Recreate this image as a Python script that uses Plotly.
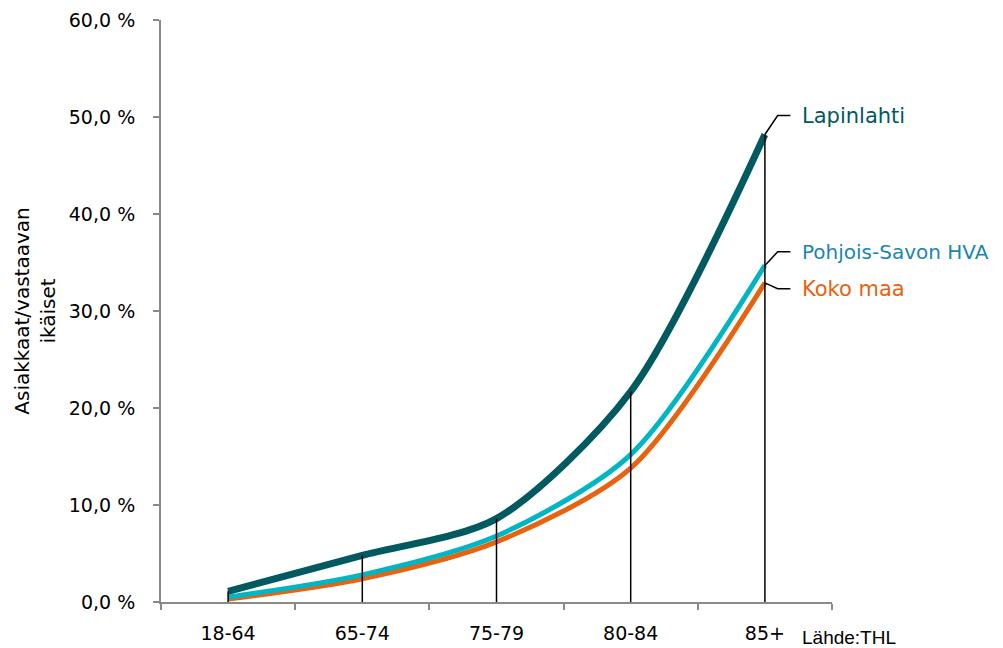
import plotly.graph_objects as go

categories = ["18-64", "65-74", "75-79", "80-84", "85+"]
lapinlahti = [1.1, 4.8, 8.6, 21.7, 48.2]
pohjois_savo = [0.5, 2.8, 6.8, 15.2, 34.7]
koko_maa = [0.3, 2.4, 6.2, 13.8, 32.9]
series_names = ["Lapinlahti", "Pohjois-Savon HVA", "Koko maa"]
y_ticks = [0, 10, 20, 30, 40, 50, 60]
y_tick_labels = ["0,0 %", "10,0 %", "20,0 %", "30,0 %", "40,0 %", "50,0 %", "60,0 %"]

line_colors = ["#005A5F", "#00B5C4", "#E8630F"]
label_colors = ["#005A5F", "#1A86AF", "#E8630F"]
label_sizes = [21, 20, 21]
widths = [7, 5, 5]
series = [lapinlahti, pohjois_savo, koko_maa]

FONT = "DejaVu Sans"
fig = go.Figure()

for i in [2, 1, 0]:
    fig.add_trace(go.Scatter(
        x=categories, y=series[i], mode="lines", name=series_names[i],
        line=dict(color=line_colors[i], width=widths[i], shape="spline", smoothing=0.8),
        showlegend=False,
    ))

shapes = []
for idx in range(len(categories)):
    top = max(s[idx] for s in series)
    shapes.append(dict(type="line", xref="x", yref="y", x0=idx, x1=idx, y0=0, y1=top,
                       line=dict(color="black", width=1.5), layer="above"))

last = len(categories) - 1
label_offsets = [1.95, 1.4, -0.6]
for i, s in enumerate(series):
    y0 = s[last]
    y1 = y0 + label_offsets[i]
    shapes.append(dict(type="path", xref="x", yref="y",
                       path=f"M {last},{y0} L {last + 0.095},{y1} L {last + 0.19},{y1}",
                       line=dict(color="black", width=1.5), layer="above"))
    fig.add_annotation(x=last + 0.26, y=y1, xref="x", yref="y", text=series_names[i],
                       showarrow=False, xanchor="left", yanchor="middle",
                       font=dict(family=FONT, size=label_sizes[i], color=label_colors[i]))

fig.add_annotation(x=1.0, y=0, xref="paper", yref="paper", text="Lähde:THL",
                   showarrow=False, xanchor="left", yanchor="middle", yshift=-35, xshift=-32,
                   font=dict(family="Liberation Sans", size=19, color="black"))

fig.update_layout(
    width=1003, height=648,
    margin=dict(l=153, r=179, t=12, b=54, autoexpand=False),
    paper_bgcolor="white", plot_bgcolor="white",
    shapes=shapes,
    font=dict(family=FONT, size=19, color="black"),
    xaxis=dict(type="category", tickson="boundaries", ticks="outside", ticklen=6,
               tickcolor="#898989", tickwidth=2, showline=True, linecolor="#898989", linewidth=2,
               showgrid=False, zeroline=False, range=[-0.5, 4.5], automargin=False,
               ticklabelstandoff=13,
               tickfont=dict(family=FONT, size=19, color="black")),
    yaxis=dict(range=[0, 60], tickvals=y_ticks, ticktext=y_tick_labels, ticks="outside",
               ticklen=6, tickcolor="#898989", tickwidth=2, showline=True, linecolor="#898989",
               linewidth=2, showgrid=False, zeroline=False, automargin=False,
               ticklabelstandoff=14,
               title=dict(text="Asiakkaat/vastaavan<br>ikäiset", standoff=8,
                          font=dict(family=FONT, size=20, color="black")),
               tickfont=dict(family=FONT, size=19, color="black")),
)

fig.write_html("out.html")
